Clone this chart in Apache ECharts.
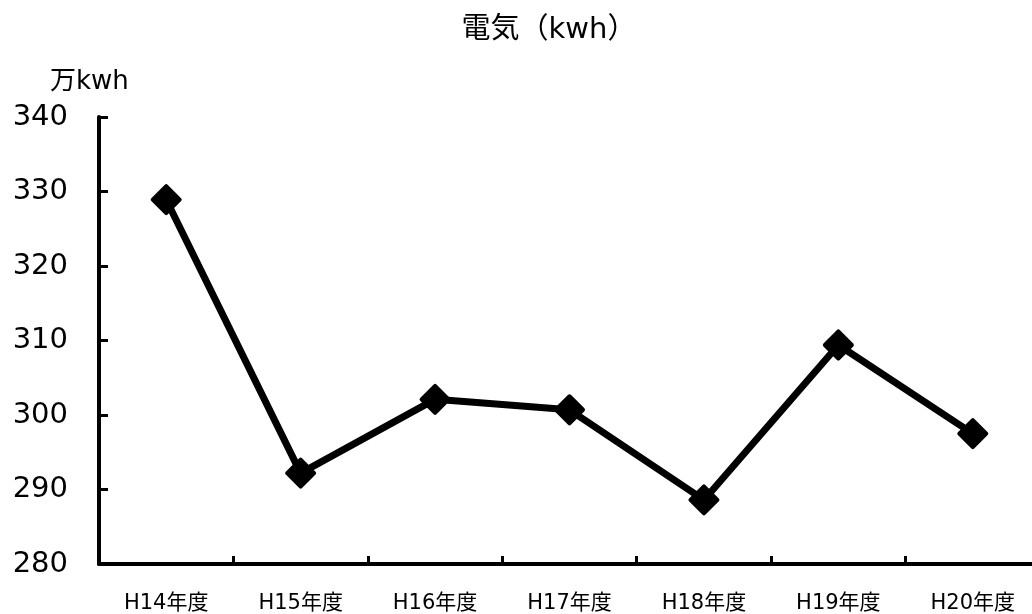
<!DOCTYPE html>
<html>
<head>
<meta charset="utf-8">
<script src="https://cdn.jsdelivr.net/npm/echarts@6/dist/echarts.min.js"></script>
<style>
  html, body { margin: 0; padding: 0; background: #fff; }
  #chart { width: 1032px; height: 614px; }
</style>
</head>
<body>
<div id="chart"></div>
<script>
// Fiscal years (Heisei) and annual electricity use in 万kWh
const years = ['H14年度', 'H15年度', 'H16年度', 'H17年度', 'H18年度', 'H19年度', 'H20年度'];
const usage = [328.9, 292.2, 302.1, 300.7, 288.6, 309.4, 297.5];
const yMin = 280, yMax = 340, yStep = 10;
const chartTitle = '電気（kwh）';
const unitLabel = '万kwh';

// Latin glyphs from DejaVu Sans, kanji fall back to Noto Sans CJK JP
const font = '"DejaVu Sans", "Noto Sans CJK JP", sans-serif';
const chart = echarts.init(document.getElementById('chart'), null, { renderer: 'canvas' });

chart.setOption({
  animation: false,
  backgroundColor: '#ffffff',
  title: [
    {
      text: chartTitle,
      left: 544, top: 11, textAlign: 'center',
      textStyle: { fontFamily: font, fontSize: 29, fontWeight: 'normal', color: '#000' }
    },
    {
      text: unitLabel,
      left: 45, top: 64,
      textStyle: { fontFamily: font, fontSize: 26, fontWeight: 'normal', color: '#000' }
    }
  ],
  // the plot runs a little past the right edge of the canvas
  grid: { left: 99, width: 941, top: 117, bottom: 50, containLabel: false, outerBoundsMode: 'none' },
  xAxis: {
    type: 'category',
    data: years,
    boundaryGap: true,
    axisLine: { lineStyle: { color: '#000', width: 4 } },
    axisTick: { show: true, inside: true, length: 8, interval: 0, lineStyle: { color: '#000', width: 3 } },
    axisLabel: { interval: 0, margin: 29, fontFamily: font, fontSize: 21, color: '#000' },
    splitLine: { show: false }
  },
  yAxis: {
    type: 'value',
    min: yMin, max: yMax, interval: yStep,
    axisLine: { show: true, lineStyle: { color: '#000', width: 4 } },
    axisTick: { show: true, inside: true, length: 9, lineStyle: { color: '#000', width: 3 } },
    axisLabel: { margin: 31, fontFamily: font, fontSize: 29, color: '#000' },
    splitLine: { show: false }
  },
  series: [{
    type: 'line',
    data: usage,
    lineStyle: { color: '#000', width: 7 },
    symbol: 'diamond',
    symbolSize: 27,
    itemStyle: { color: '#000', borderColor: '#000', borderWidth: 4, borderJoin: 'round' },
    emphasis: { disabled: true }
  }]
});
</script>
</body>
</html>
